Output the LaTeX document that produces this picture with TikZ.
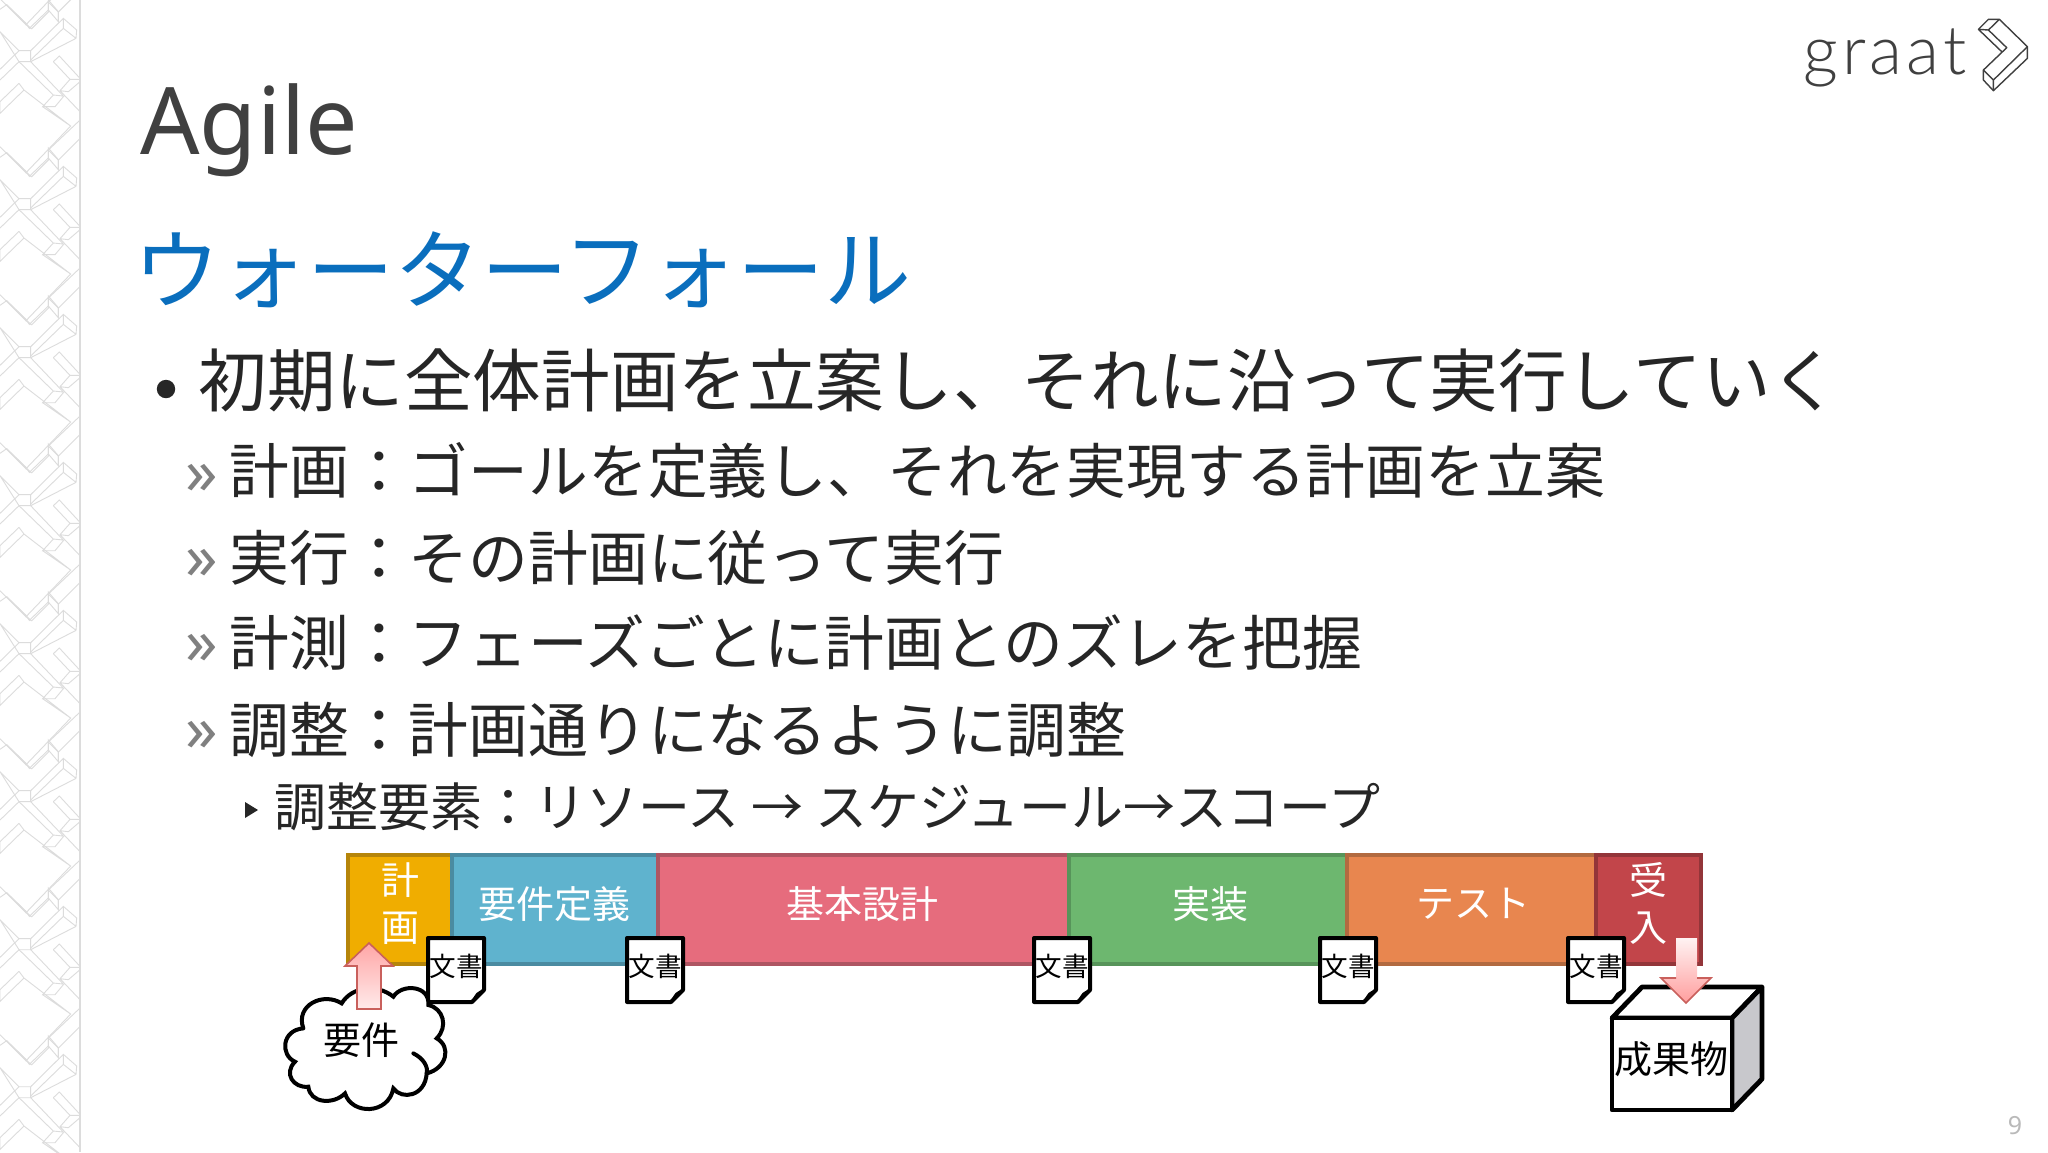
\documentclass[tikz,border=0pt]{standalone}
\usepackage{fontspec}
\setmainfont{Noto Sans}
\newfontfamily\jp{Noto Sans CJK JP}
\newfontfamily\lightlogo[LetterSpace=6]{Lato Light}
\usetikzlibrary{shadings}
\definecolor{txt}{HTML}{262626}
\definecolor{ttl}{HTML}{404040}
\definecolor{blu}{HTML}{0A6EBD}
\definecolor{pat}{HTML}{DCDCDC}
\definecolor{aline}{HTML}{C9605C}
\tikzset{
 line1/.style={anchor=west,text=txt,font=\jp\fontsize{34.3}{40}\selectfont,inner sep=0pt},
 line2/.style={anchor=west,text=txt,font=\jp\fontsize{29.9}{36}\selectfont,inner sep=0pt},
 line3/.style={anchor=west,text=txt,font=\jp\fontsize{26}{30}\selectfont,inner sep=0pt},
 guil/.style={anchor=center,text=gray,font=\fontsize{32}{36}\selectfont,inner sep=0pt},
 barlabel/.style={text=white,font=\jp\fontsize{19}{23.5}\selectfont,align=center,inner sep=0pt},
 blacklabel/.style={text=black,font=\jp\fontsize{19}{23}\selectfont,inner sep=0pt},
 doclabel/.style={text=black,font=\jp\fontsize{13.3}{15}\selectfont,inner sep=0pt},
 bar/.style={line width=1.8pt},
 doc/.style={draw=black,fill=white,line width=2pt,line join=round},
 cubeedge/.style={draw=black,line width=2.4pt,line join=round},
 cloudedge/.style={draw=black,line width=2pt,line cap=round},
 patline/.style={draw=pat,line width=0.45pt},
 logoline/.style={draw=ttl,line width=0.7pt,line join=round},
}
\newcommand{\docbox}[2]{%
 \path[doc] (#2,938) -- (#2+56,938) -- (#2+56,990) -- (#2+44,1002) -- (#2,1002) -- cycle;
 \fill[black] (#2+56,990) .. controls (#2+50,990) and (#2+46,994) .. (#2+44,1002) -- cycle;
 \node[doclabel] (#1) at (#2+28,966) {文書};
}
\begin{document}
\begin{tikzpicture}[x=0.5pt,y=-0.5pt]
\useasboundingbox (0,0) rectangle (2048,1152);
\fill[white] (0,0) rectangle (2048,1152);
% left strip pattern
\begin{scope}
\clip (0,0) rectangle (80,1152);
\foreach \k in {-1,...,8}{
\begin{scope}[shift={(0,148*\k)},x=0.1667pt,y=-0.1667pt]
 \draw[patline] (0,28)--(20,14)--(78,70)--(88,85)--(145,30)--(175,65)--(175,35)--(145,0)--(145,30);
 \draw[patline] (0,95)--(57,152)--(92,152)--(92,185)--(57,185)--cycle;
 \draw[patline] (20,14)--(92,85) (57,152)--(0,208) (57,185)--(0,240);
 \draw[patline] (92,152)--(190,55)--(230,90)--(228,115)--(92,185) (190,55)--(190,85)--(228,115) (190,85)--(92,180);
 \draw[patline] (160,185)--(178,168)--(240,235) (160,185)--(210,238)--(240,238) (210,238)--(180,272)--(240,335) (240,245)--(205,275)--(180,272);
 \draw[patline] (57,185)--(160,285)--(190,288)--(92,185) (160,285)--(128,320)--(165,320)--(190,290);
 \draw[patline] (128,320)--(212,378)--(78,518)--(0,440) (57,250)--(0,305)--(0,340)--(72,270)--(212,378) (57,250)--(72,270);
 \draw[patline] (78,518)--(95,530)--(145,480)--(145,450)--(240,360) (145,450)--(175,480)--(240,415) (175,480)--(175,510);
\end{scope}}
\end{scope}
\draw[pat,line width=0.6pt] (80,0)--(80,1152);
% heading
\node[anchor=base west,text=ttl,font=\fontsize{46.6}{56}\selectfont,inner sep=0pt] (agile) at (140,154) {Agile};
\node[anchor=west,text=blu,font=\jp\fontsize{43.5}{50}\selectfont,inner sep=0pt] (wf) at (133,270) {ウォーターフォール};
% logo
\node[anchor=base west,text=ttl,font=\lightlogo\fontsize{34}{38}\selectfont,inner sep=0pt] (graat) at (1803,74) {graat};
\begin{scope}[shift={(1780,0)},x=0.1667pt,y=-0.1667pt]
 \draw[logoline] (595,88)--(625,58)--(658,58)--(742,140)--(742,175)--(640,272)--(610,240)--(610,210)--(680,143)--(625,90)--(595,88)--(665,155);
 \draw[logoline] (625,90)--(658,58) (610,210)--(640,240)--(742,140) (640,240)--(640,272);
\end{scope}
\node[text=gray!55,font=\fontsize{12.5}{15}\selectfont,inner sep=0pt] (pg) at (2015,1126) {9};
% bullets
\fill[txt] (166,389) circle (4.6pt);
\node[line1] (l1) at (198,380) {初期に全体計画を立案し、それに沿って実行していく};
\node[guil] (g2) at (202,479) {»}; \node[line2] (l2) at (229,471) {計画：ゴールを定義し、それを実現する計画を立案};
\node[guil] (g3) at (202,564) {»}; \node[line2] (l3) at (229,558) {実行：その計画に従って実行};
\node[guil] (g4) at (202,649) {»}; \node[line2] (l4) at (229,643) {計測：フェーズごとに計画とのズレを把握};
\node[guil] (g5) at (202,736) {»}; \node[line2] (l5) at (229,730) {調整：計画通りになるように調整};
\fill[txt] (245,802) -- (258,810) -- (245,818) -- cycle;
\node[line3] (l6) at (274,807) {調整要素：リソース → スケジュール→スコープ};
% phase bar
\path[bar,fill={rgb,255:red,240;green,173;blue,0},draw={rgb,255:red,181;green,133;blue,10}] (348,855) rectangle (452,964);
\path[bar,fill={rgb,255:red,95;green,179;blue,206},draw={rgb,255:red,74;green,139;blue,161}] (452,855) rectangle (658,964);
\path[bar,fill={rgb,255:red,230;green,108;blue,125},draw={rgb,255:red,174;green,85;blue,98}] (658,855) rectangle (1069,964);
\path[bar,fill={rgb,255:red,109;green,183;blue,111},draw={rgb,255:red,87;green,148;blue,90}] (1069,855) rectangle (1347,964);
\path[bar,fill={rgb,255:red,232;green,134;blue,79},draw={rgb,255:red,178;green,106;blue,64}] (1347,855) rectangle (1596,964);
\path[bar,fill={rgb,255:red,194;green,69;blue,74},draw={rgb,255:red,147;green,53;blue,57}] (1596,855) rectangle (1701,964);
\node[barlabel] (p1) at (400,904) {計\\画};
\node[barlabel] (p2) at (554,904) {要件定義};
\node[barlabel] (p3) at (862,904) {基本設計};
\node[barlabel] (p4) at (1210,904) {実装};
\node[barlabel] (p5) at (1473,904) {テスト};
\node[barlabel] (p6) at (1648,903) {受\\入};
% documents
\docbox{d1}{428}
\docbox{d2}{627}
\docbox{d3}{1034}
\docbox{d4}{1320}
\docbox{d5}{1568}
% cloud
\begin{scope}[shift={(280,940)},x=0.1667pt,y=-0.1667pt]
 \draw[cloudedge,fill=white] (70,265)
  .. controls (45,195) and (130,155) .. (185,190)
  .. controls (215,140) and (290,130) .. (340,170)
  .. controls (365,130) and (450,135) .. (445,195)
  .. controls (490,205) and (505,260) .. (470,295)
  .. controls (515,320) and (500,385) .. (440,400)
  .. controls (435,470) and (365,480) .. (340,445)
  .. controls (325,525) and (215,525) .. (195,460)
  .. controls (160,495) and (90,490) .. (85,440)
  .. controls (40,445) and (10,400) .. (45,365)
  .. controls (0,345) and (5,270) .. (70,265);
 \draw[cloudedge] (400,340) .. controls (430,355) and (445,380) .. (440,400);
\end{scope}
\node[blacklabel] (req) at (361,1040) {要件};
% up arrow
\shade[top color=red!35,bottom color=red!8,draw=aline,line width=0.8pt] (369,943) -- (393,966) -- (381,966) -- (381,1009) -- (357,1009) -- (357,966) -- (345,966) -- cycle;
% cube
\path[cubeedge,fill=white] (1642,987) -- (1762,987) -- (1732,1018) -- (1612,1018) -- cycle;
\path[cubeedge,fill={rgb,255:red,200;green,200;blue,204}] (1762,987) -- (1762,1079) -- (1732,1110) -- (1732,1018) -- cycle;
\path[cubeedge,fill=white] (1612,1018) rectangle (1732,1110);
\node[blacklabel] (prod) at (1671,1059) {成果物};
% down arrow
\shade[top color=red!5,bottom color=red!38] (1676,938) -- (1697,938) -- (1697,978) -- (1711,978) -- (1686,1003) -- (1661,978) -- (1676,978) -- cycle;
\draw[aline,line width=0.8pt,line join=miter] (1676,978) -- (1661,978) -- (1686,1003) -- (1711,978) -- (1697,978);
\end{tikzpicture}
\end{document}
